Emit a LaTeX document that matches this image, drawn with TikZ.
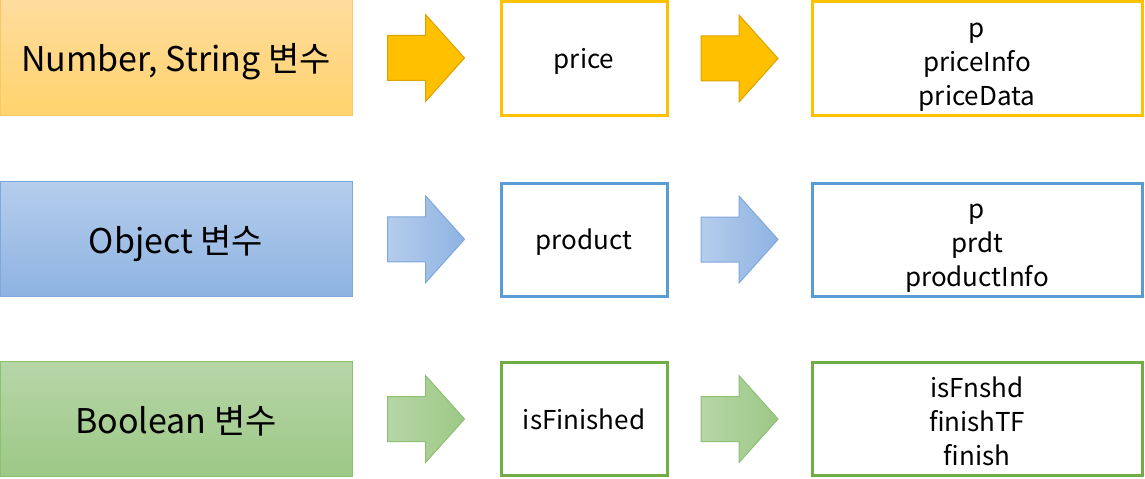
\documentclass[tikz,border=0pt]{standalone}
\usepackage{fontspec}
\setmainfont{Noto Sans CJK KR}
\usetikzlibrary{calc}

\definecolor{orangetop}{HTML}{FFDC9E}
\definecolor{orangebot}{HTML}{FFD36C}
\definecolor{orangeline}{HTML}{F6C965}
\definecolor{orangeful}{HTML}{FFC000}
\definecolor{orangedark}{HTML}{D9A400}
\definecolor{bluetop}{HTML}{B5CDEC}
\definecolor{bluebot}{HTML}{8EB3E2}
\definecolor{blueline}{HTML}{7EA8DA}
\definecolor{bluebox}{HTML}{5B9BD5}
\definecolor{greentop}{HTML}{B6D6A7}
\definecolor{greenbot}{HTML}{9DC886}
\definecolor{greenline}{HTML}{8CC073}
\definecolor{greenbox}{HTML}{70AD47}

\newcommand\altnames[1]{\begin{tabular}[t]{@{}c@{}}#1\end{tabular}}

\tikzset{
	kindbox/.style = { draw, line width=0.75pt, minimum width=264pt, minimum height=86.25pt,
		inner sep=0pt, text depth=-1pt, font=\fontsize{25.5}{30}\selectfont },
	namebox/.style = { draw, line width=2.25pt, fill=white, minimum height=84.75pt,
		inner sep=0pt, text depth=-1pt, font=\fontsize{19.5}{25.5}\selectfont },
	listbox/.style = { namebox, minimum width=247.5pt, text height=0pt, text depth=32pt },
	pics/blockarrow/.style = { code = {
		\path [pic actions] (-38.5,-22.5) -- (-0.5,-22.5) -- (-0.5,-43.5) -- (38.5,0)
			-- (-0.5,43.5) -- (-0.5,22.5) -- (-38.5,22.5) -- cycle;
	}}
}

\begin{document}
\begin{tikzpicture}[x=0.75pt, y=-0.75pt]
	\useasboundingbox (0,0) rectangle (1145,478);

	% row 1
	\node [kindbox, draw=orangeline, top color=orangetop, bottom color=orangebot]
		(numkind) at (176,57.5) { Number, String 변수 };
	\node [namebox, draw=orangeful, minimum width=124.5pt]
		(numname) at (584,58.5) { price };
	\node [listbox, draw=orangeful]
		(numalt) at (977,58.5) { \altnames{p\\ priceInfo\\ priceData} };
	\pic [draw=orangedark, line width=0.75pt, fill=orangeful]
		at ($(numkind.east)!0.5!(numname.west)$) {blockarrow};
	\pic [draw=orangedark, line width=0.75pt, fill=orangeful]
		at ($(numname.east)!0.5!(numalt.west)$) {blockarrow};

	% row 2
	\node [kindbox, draw=blueline, top color=bluetop, bottom color=bluebot]
		(objkind) at (176,239) { Object 변수 };
	\node [namebox, draw=bluebox, minimum width=124.5pt]
		(objname) at (584,239.5) { product };
	\node [listbox, draw=bluebox]
		(objalt) at (977,239.5) { \altnames{p\\ prdt\\ productInfo} };
	\pic [draw=blueline, line width=0.75pt, left color=bluetop, right color=bluebot]
		at ($(objkind.east)!0.5!(objname.west)$) {blockarrow};
	\pic [draw=blueline, line width=0.75pt, left color=bluetop, right color=bluebot]
		at ($(objname.east)!0.5!(objalt.west)$) {blockarrow};

	% row 3
	\node [kindbox, draw=greenline, top color=greentop, bottom color=greenbot]
		(boolkind) at (176,419) { Boolean 변수 };
	\node [namebox, draw=greenbox, minimum width=124.5pt]
		(boolname) at (584,419) { isFinished };
	\node [listbox, draw=greenbox]
		(boolalt) at (977,419) { \altnames{isFnshd\\ finishTF\\ finish} };
	\pic [draw=greenline, line width=0.75pt, left color=greentop, right color=greenbot]
		at ($(boolkind.east)!0.5!(boolname.west)$) {blockarrow};
	\pic [draw=greenline, line width=0.75pt, left color=greentop, right color=greenbot]
		at ($(boolname.east)!0.5!(boolalt.west)$) {blockarrow};
\end{tikzpicture}
\end{document}
